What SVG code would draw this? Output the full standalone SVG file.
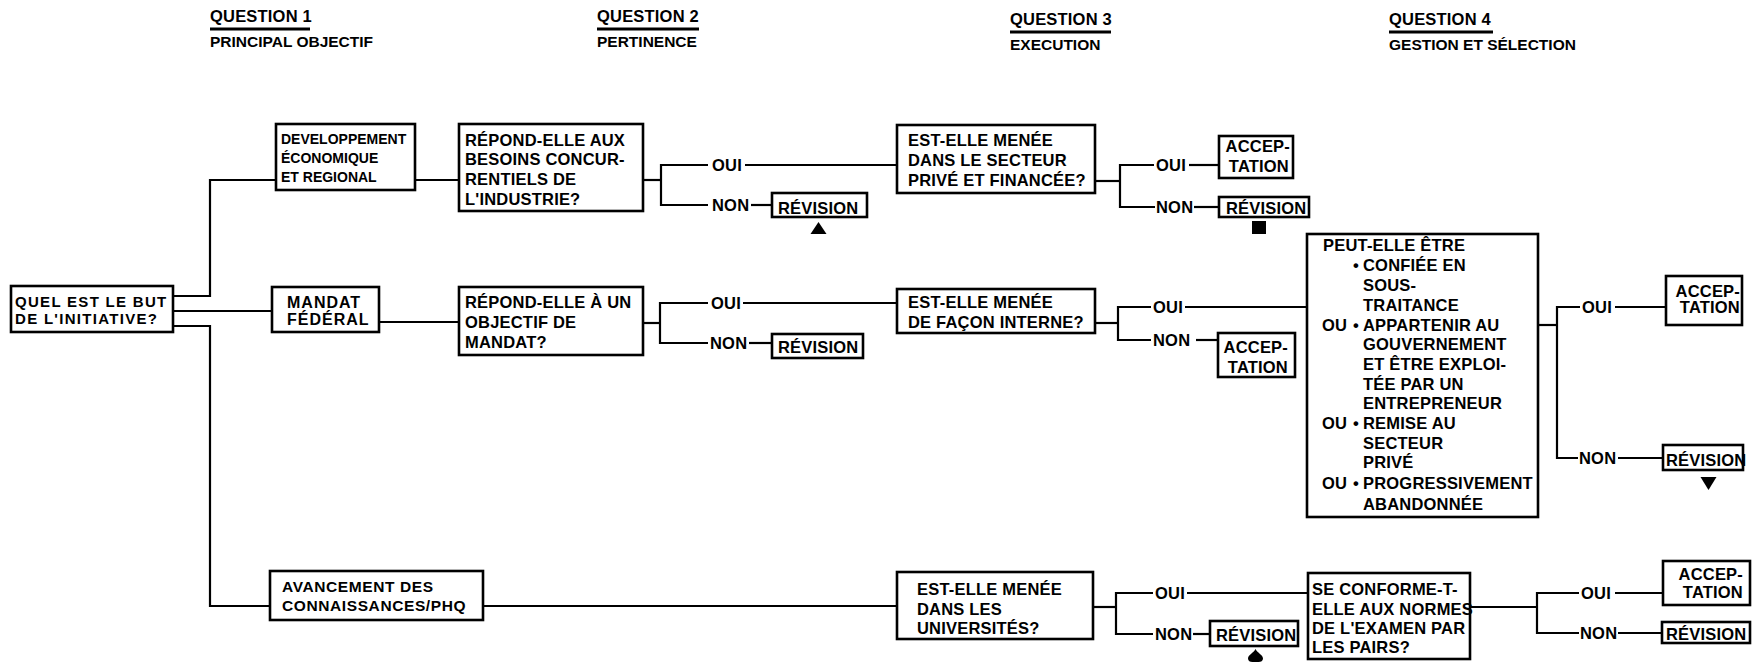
<svg xmlns="http://www.w3.org/2000/svg" width="1759" height="662" viewBox="0 0 1759 662">
<style>
.box{fill:#fff;stroke:#000;stroke-width:2.6}
.ln{fill:none;stroke:#000;stroke-width:2.2}
.ul{fill:none;stroke:#000;stroke-width:2.8}
text{font-family:"Liberation Sans",Arial,sans-serif;font-weight:bold;font-size:16.5px;letter-spacing:0.2px;fill:#000}
.q{font-size:16.5px}
.sub{font-size:15.5px;letter-spacing:0}
.dev{font-size:14px;letter-spacing:0}
.root{font-size:15px;letter-spacing:1.3px}
.mand{font-size:16px;letter-spacing:1px}
.av{font-size:15.5px;letter-spacing:0.6px}
.end{text-anchor:end}
.mk{fill:#000}
</style>
<rect width="1759" height="662" fill="#fff"/>

<g id="headers">
<text class="q" x="210" y="22">QUESTION 1</text>
<path class="ul" d="M210 29H310"/>
<text class="sub" x="210" y="47">PRINCIPAL OBJECTIF</text>
<text class="q" x="597" y="22">QUESTION 2</text>
<path class="ul" d="M597 29H699"/>
<text class="sub" x="597" y="47">PERTINENCE</text>
<text class="q" x="1010" y="25">QUESTION 3</text>
<path class="ul" d="M1010 32H1111"/>
<text class="sub" x="1010" y="50">EXECUTION</text>
<text class="q" x="1389" y="25">QUESTION 4</text>
<path class="ul" d="M1389 32H1493"/>
<text class="sub" x="1389" y="50">GESTION ET SÉLECTION</text>
</g>

<g id="connectors">
<polyline class="ln" points="173,296 210,296 210,180 276,180"/>
<polyline class="ln" points="173,311 272,311"/>
<polyline class="ln" points="173,326 210,326 210,606 270,606"/>
<polyline class="ln" points="415,180 459,180"/>
<polyline class="ln" points="379,322 459,322"/>
<polyline class="ln" points="483,606 897,606"/>
<polyline class="ln" points="643,180 661,180"/>
<polyline class="ln" points="708,165 661,165 661,205 708,205"/>
<polyline class="ln" points="745,165 897,165"/>
<polyline class="ln" points="751,205 772,205"/>
<polyline class="ln" points="1095,181 1120,181"/>
<polyline class="ln" points="1154,165 1120,165 1120,207 1155,207"/>
<polyline class="ln" points="1189,165 1219,165"/>
<polyline class="ln" points="1194,207 1219,207"/>
<polyline class="ln" points="643,323 660,323"/>
<polyline class="ln" points="708,303 660,303 660,343 708,343"/>
<polyline class="ln" points="743,303 897,303"/>
<polyline class="ln" points="749,343 772,343"/>
<polyline class="ln" points="1095,323 1118,323"/>
<polyline class="ln" points="1151,307 1118,307 1118,340 1151,340"/>
<polyline class="ln" points="1185,307 1307,307"/>
<polyline class="ln" points="1196,340 1218,340"/>
<polyline class="ln" points="1538,325 1557,325"/>
<polyline class="ln" points="1580,307 1557,307 1557,458 1578,458"/>
<polyline class="ln" points="1615,307 1666,307"/>
<polyline class="ln" points="1618,458 1663,458"/>
<polyline class="ln" points="1093,607 1116,607"/>
<polyline class="ln" points="1153,593 1116,593 1116,634 1153,634"/>
<polyline class="ln" points="1187,593 1308,593"/>
<polyline class="ln" points="1193,634 1210,634"/>
<polyline class="ln" points="1470,607 1537,607"/>
<polyline class="ln" points="1579,593 1537,593 1537,633 1579,633"/>
<polyline class="ln" points="1615,593 1663,593"/>
<polyline class="ln" points="1618,633 1662,633"/>
</g>

<g id="labels">
<text x="712" y="171">OUI</text>
<text x="712" y="211">NON</text>
<text x="1156" y="171">OUI</text>
<text x="1156" y="213">NON</text>
<text x="711" y="309">OUI</text>
<text x="710" y="349">NON</text>
<text x="1153" y="313">OUI</text>
<text x="1153" y="346">NON</text>
<text x="1582" y="313">OUI</text>
<text x="1579" y="464">NON</text>
<text x="1155" y="599">OUI</text>
<text x="1155" y="640">NON</text>
<text x="1581" y="599">OUI</text>
<text x="1580" y="639">NON</text>
</g>

<g id="root">
<rect class="box" x="11" y="286" width="162" height="46"/>
<text class="root" x="15" y="306.5">QUEL EST LE BUT</text>
<text class="root" x="15" y="323.5">DE L'INITIATIVE?</text>
</g>

<g id="dev">
<rect class="box" x="276" y="124" width="139" height="66"/>
<text class="dev" x="281" y="144">DEVELOPPEMENT</text>
<text class="dev" x="281" y="163">ÉCONOMIQUE</text>
<text class="dev" x="281" y="182">ET REGIONAL</text>
</g>

<g id="mandat">
<rect class="box" x="272" y="287" width="107" height="45"/>
<text class="mand" x="287" y="308">MANDAT</text>
<text class="mand" x="287" y="325">FÉDÉRAL</text>
</g>

<g id="avancement">
<rect class="box" x="270" y="571" width="213" height="49"/>
<text class="av" x="282" y="592">AVANCEMENT DES</text>
<text class="av" x="282" y="611">CONNAISSANCES/PHQ</text>
</g>

<g id="repond1">
<rect class="box" x="459" y="124" width="184" height="87"/>
<text x="465" y="146">RÉPOND-ELLE AUX</text>
<text x="465" y="165">BESOINS CONCUR-</text>
<text x="465" y="185">RENTIELS DE</text>
<text x="465" y="205">L'INDUSTRIE?</text>
</g>

<g id="repond2">
<rect class="box" x="459" y="287" width="184" height="68"/>
<text x="465" y="308">RÉPOND-ELLE À UN</text>
<text x="465" y="328">OBJECTIF DE</text>
<text x="465" y="348">MANDAT?</text>
</g>

<g id="est1">
<rect class="box" x="897" y="125" width="198" height="68"/>
<text x="908" y="146">EST-ELLE MENÉE</text>
<text x="908" y="166">DANS LE SECTEUR</text>
<text x="908" y="186">PRIVÉ ET FINANCÉE?</text>
</g>

<g id="est2">
<rect class="box" x="897" y="289" width="198" height="44"/>
<text x="908" y="308">EST-ELLE MENÉE</text>
<text x="908" y="328">DE FAÇON INTERNE?</text>
</g>

<g id="est3">
<rect class="box" x="897" y="572" width="196" height="67"/>
<text x="917" y="595">EST-ELLE MENÉE</text>
<text x="917" y="615">DANS LES</text>
<text x="917" y="634">UNIVERSITÉS?</text>
</g>

<g id="rev1">
<rect class="box" x="772" y="193" width="95" height="24"/>
<text x="778" y="214">RÉVISION</text>
</g>
<polygon id="mark-triangle" class="mk" points="810.5,234 826.5,234 818.5,222"/>

<g id="acc1">
<rect class="box" x="1219" y="136" width="74" height="42"/>
<text class="end" x="1290" y="152">ACCEP-</text>
<text class="end" x="1289" y="172">TATION</text>
</g>

<g id="rev2">
<rect class="box" x="1219" y="197" width="90" height="20"/>
<text x="1226" y="214">RÉVISION</text>
</g>
<rect id="mark-square" class="mk" x="1252" y="221" width="14" height="13"/>

<g id="rev3">
<rect class="box" x="772" y="334" width="91" height="24"/>
<text x="778" y="353">RÉVISION</text>
</g>

<g id="acc2">
<rect class="box" x="1218" y="333" width="77" height="44"/>
<text class="end" x="1288" y="353">ACCEP-</text>
<text class="end" x="1288" y="373">TATION</text>
</g>

<g id="peut">
<rect class="box" x="1307" y="234" width="231" height="283"/>
<text x="1323" y="251">PEUT-ELLE ÊTRE</text>
<text x="1353" y="271">•</text>
<text x="1363" y="271">CONFIÉE EN</text>
<text x="1363" y="291">SOUS-</text>
<text x="1363" y="311">TRAITANCE</text>
<text x="1322" y="331">OU</text>
<text x="1353" y="331">•</text>
<text x="1363" y="331">APPARTENIR AU</text>
<text x="1363" y="350">GOUVERNEMENT</text>
<text x="1363" y="370">ET ÊTRE EXPLOI-</text>
<text x="1363" y="390">TÉE PAR UN</text>
<text x="1363" y="409">ENTREPRENEUR</text>
<text x="1322" y="429">OU</text>
<text x="1353" y="429">•</text>
<text x="1363" y="429">REMISE AU</text>
<text x="1363" y="449">SECTEUR</text>
<text x="1363" y="468">PRIVÉ</text>
<text x="1322" y="489">OU</text>
<text x="1353" y="489">•</text>
<text x="1363" y="489">PROGRESSIVEMENT</text>
<text x="1363" y="510">ABANDONNÉE</text>
</g>

<g id="acc3">
<rect class="box" x="1666" y="276" width="76" height="49"/>
<text class="end" x="1740" y="297">ACCEP-</text>
<text class="end" x="1740" y="313">TATION</text>
</g>

<g id="rev4">
<rect class="box" x="1663" y="445" width="80" height="25"/>
<text x="1666" y="466">RÉVISION</text>
</g>
<polygon id="mark-down" class="mk" points="1700.5,477 1716.5,477 1708.5,490"/>

<g id="rev5">
<rect class="box" x="1210" y="621" width="88" height="25"/>
<text x="1216" y="641">RÉVISION</text>
</g>
<path id="mark-drop" class="mk" d="M1255.5 649C1257.5 653 1263 655 1263 658.5C1263 661 1261 662 1258.5 662H1252.5C1250 662 1248 661 1248 658.5C1248 655 1253.5 653 1255.5 649Z"/>

<g id="se">
<rect class="box" x="1308" y="573" width="162" height="86"/>
<text x="1312" y="595">SE CONFORME-T-</text>
<text x="1312" y="615">ELLE AUX NORMES</text>
<text x="1312" y="634">DE L'EXAMEN PAR</text>
<text x="1312" y="653">LES PAIRS?</text>
</g>

<g id="acc4">
<rect class="box" x="1663" y="561" width="87" height="44"/>
<text class="end" x="1743" y="580">ACCEP-</text>
<text class="end" x="1743" y="598">TATION</text>
</g>

<g id="rev6">
<rect class="box" x="1662" y="622" width="88" height="21"/>
<text x="1666" y="640">RÉVISION</text>
</g>
</svg>
